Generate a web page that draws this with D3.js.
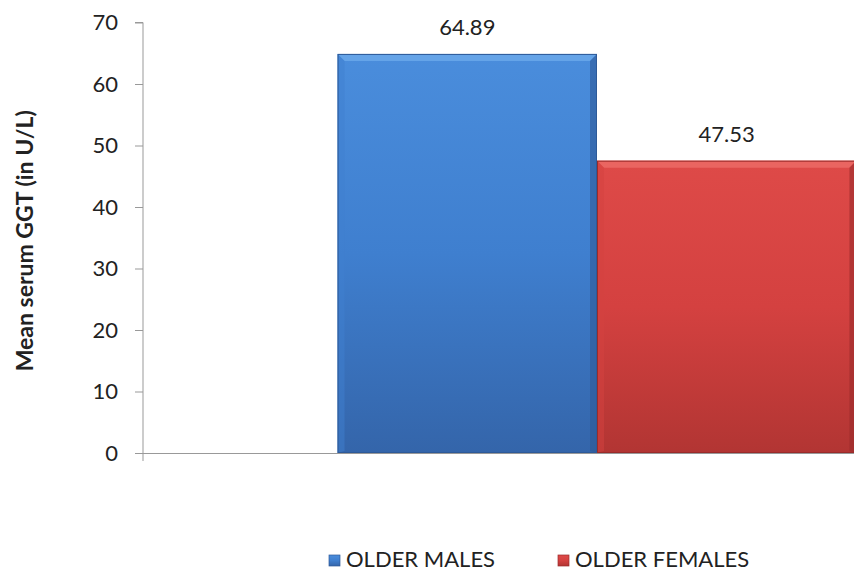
<!DOCTYPE html>
<html><head><meta charset="utf-8">
<script src="https://cdn.jsdelivr.net/npm/d3@7"></script>
<style>body{margin:0;background:#fff}svg{display:block}text{font-family:Lato,"Open Sans",sans-serif;fill:#222}</style>
</head><body><svg id="c" width="854" height="573"></svg>
<script>
const categories = ["Group"];
const seriesNames = ["OLDER MALES", "OLDER FEMALES"];
const seriesValues = [64.89, 47.53];
const yTicks = [0, 10, 20, 30, 40, 50, 60, 70];
const yTitle = "Mean serum GGT (in U/L)";

(function(){
const svg = d3.select("#c");
const pl = 143, pr = 1051, pt = 22.5, pb = 453;
const y = d3.scaleLinear().domain([0, 70]).range([pb, pt]);
const x0 = d3.scaleBand().domain(categories).range([pl, pr]);
const x1 = d3.scaleBand().domain(seriesNames).range([0, x0.bandwidth()]).paddingInner(0).paddingOuter(0.75);

const pal = {
  "OLDER MALES": {top:"#4a8ddc", mid:"#3f7fcf", bot:"#3465aa", bevel:"#6aa8ea", edge:"#2e5a98"},
  "OLDER FEMALES": {top:"#de4a48", mid:"#d44140", bot:"#b23533", bevel:"#ec6a66", edge:"#9a2c2b"}
};
const defs = svg.append("defs");
seriesNames.forEach((s,i)=>{
  const g = defs.append("linearGradient").attr("id","g"+i).attr("x1",0).attr("y1",0).attr("x2",0).attr("y2",1);
  g.append("stop").attr("offset","0%").attr("stop-color",pal[s].top);
  g.append("stop").attr("offset","50%").attr("stop-color",pal[s].mid);
  g.append("stop").attr("offset","100%").attr("stop-color",pal[s].bot);
});

const yAxis = d3.axisLeft(y).tickValues(yTicks).tickSize(8).tickPadding(17);
const ga = svg.append("g").attr("transform",`translate(${pl},0)`).call(yAxis);
ga.select(".domain").attr("stroke","#999").attr("d",`M-8,${pt}H0V${pb+8}`);
ga.selectAll(".tick line").attr("stroke","#999");
ga.selectAll(".tick text").style("font-size","22px").attr("fill","#222");

const data = seriesNames.map((s,i)=>({s, v:seriesValues[i], i}));
const bars = svg.append("g").selectAll("g").data(data).join("g");
bars.each(function(d){
  const g = d3.select(this);
  const bx = x0(categories[0]) + x1(d.s), bw = x1.bandwidth();
  const by = y(d.v), bh = y(0) - y(d.v);
  const p = pal[d.s];
  g.append("rect").attr("x",bx).attr("y",by).attr("width",bw).attr("height",bh).attr("fill",`url(#g${d.i})`);
  const b = 7;
  g.append("polygon").attr("points",`${bx},${by} ${bx+bw},${by} ${bx+bw-b},${by+b} ${bx+b},${by+b}`).attr("fill",p.bevel).attr("opacity",0.85);
  g.append("polygon").attr("points",`${bx},${by} ${bx+b},${by+b} ${bx+b},${by+bh-2} ${bx},${by+bh}`).attr("fill",p.mid).attr("opacity",0.5);
  g.append("polygon").attr("points",`${bx+bw},${by} ${bx+bw-b},${by+b} ${bx+bw-b},${by+bh-2} ${bx+bw},${by+bh}`).attr("fill",p.edge).attr("opacity",0.6);
  g.append("rect").attr("x",bx+0.5).attr("y",by+0.5).attr("width",bw-1).attr("height",bh-1).attr("fill","none").attr("stroke",p.edge).attr("stroke-width",1);
  g.append("text").attr("x",bx+bw/2).attr("y",by-19).attr("text-anchor","middle").style("font-size","22px").text(d.v.toFixed(2));
});

svg.append("line").attr("x1",pl).attr("x2",854).attr("y1",pb+0.5).attr("y2",pb+0.5).attr("stroke","#999");

svg.append("text").attr("transform",`translate(33,${(pt+pb)/2+3}) rotate(-90)`).attr("text-anchor","middle")
  .style("font-size","23px").style("font-weight","bold").text(yTitle);

const legX = [329, 558];
const lg = svg.append("g").selectAll("g").data(data).join("g").attr("transform",(d,i)=>`translate(${legX[i]},555)`);
lg.append("rect").attr("width",11).attr("height",11).attr("fill",(d)=>`url(#g${d.i})`).attr("stroke",d=>pal[d.s].edge).attr("stroke-width",0.7);
lg.append("text").attr("x",17).attr("y",12).style("font-size","22px").text(d=>d.s);
})();
</script></body></html>
